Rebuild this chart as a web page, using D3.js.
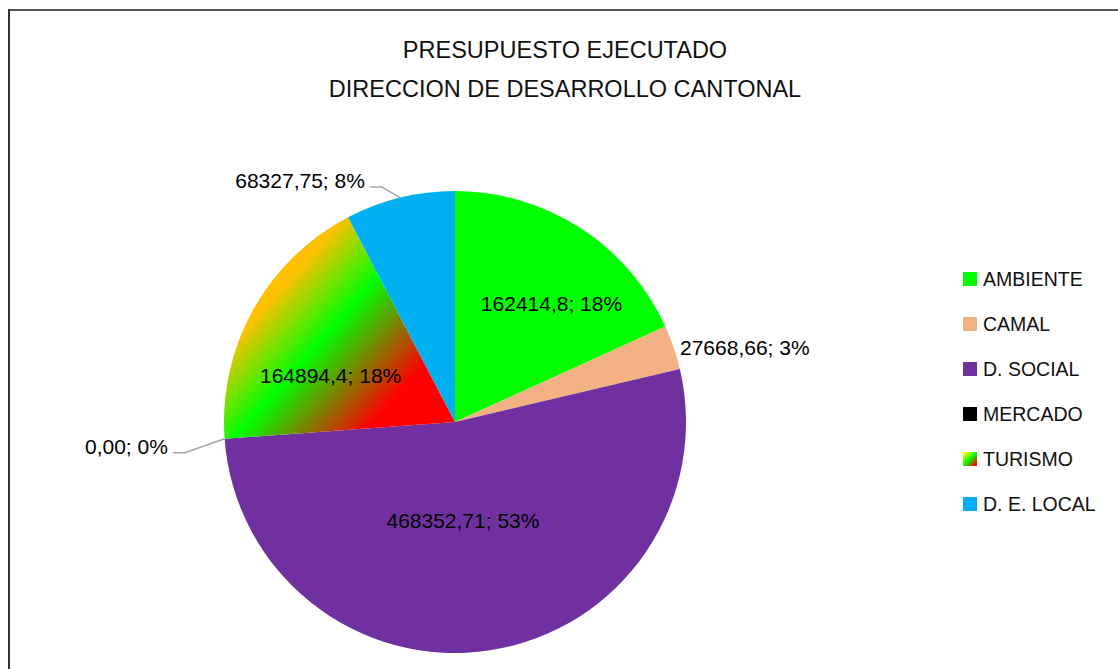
<!DOCTYPE html>
<html>
<head>
<meta charset="utf-8">
<script src="https://cdn.jsdelivr.net/npm/d3@7"></script>
<style>
  html, body { margin: 0; padding: 0; background: #fff; }
  svg { display: block; font-family: "Liberation Sans", Arial, sans-serif; }
</style>
</head>
<body>
<svg id="pie"></svg>
<script>
// chart data
const titleLines = ["PRESUPUESTO EJECUTADO", "DIRECCION DE DESARROLLO CANTONAL"];
const categories = ["AMBIENTE", "CAMAL", "D. SOCIAL", "MERCADO", "TURISMO", "D. E. LOCAL"];
const values = [162414.8, 27668.66, 468352.71, 0, 164894.4, 68327.75];
const valueLabels = ["162414,8", "27668,66", "468352,71", "0,00", "164894,4", "68327,75"];
const colors = ["#00ff00", "#f4b183", "#7030a0", "#000000", "url(#turismoFill)", "#00b0f0"];

// where each data label sits: polar position (fraction of radius, degrees clockwise from top)
const labelSpots = {
  "AMBIENTE":    { r: 0.661, a: 39.2, anchor: "middle" },
  "CAMAL":       { r: 1.026, a: 71.7, anchor: "start" },
  "D. SOCIAL":   { r: 0.428, a: 175.4, anchor: "middle" },
  "MERCADO":     { r: 1.177, a: 263.5, leader: true },
  "TURISMO":     { r: 0.575, a: 290.5, anchor: "middle" },
  "D. E. LOCAL": { r: 1.065, a: 342.7, leader: true }
};

function drawPie(width, height) {
  const svg = d3.select('#pie')
    .attr('width', width)
    .attr('height', height)
    .attr('viewBox', `0 0 ${width} ${height}`);

  const defs = svg.append('defs');

  const cx = 455, cy = 422, radius = 231;

  // frame of the chart area (only top and left edges are visible)
  svg.append('line')
    .attr('x1', 8).attr('y1', 10).attr('x2', width).attr('y2', 10)
    .attr('stroke', '#555').attr('stroke-width', 2);
  svg.append('line')
    .attr('x1', 9).attr('y1', 9).attr('x2', 9).attr('y2', height)
    .attr('stroke', '#333').attr('stroke-width', 2);

  // title
  svg.append('text')
    .attr('x', 565)
    .attr('text-anchor', 'middle')
    .attr('font-size', '23.5px')
    .attr('fill', '#111')
    .selectAll('tspan')
    .data(titleLines)
    .enter()
    .append('tspan')
    .attr('x', 565)
    .attr('y', (d, i) => 58 + i * 38.5)
    .text(d => d);

  // gradient for TURISMO slice (orange -> green -> red, top-left to bottom-right)
  // coordinates are relative to the pie centre, since the slice lives in the translated group
  const grad = defs.append('linearGradient')
    .attr('id', 'turismoFill')
    .attr('gradientUnits', 'userSpaceOnUse')
    .attr('x1', -175).attr('y1', -176)
    .attr('x2', -35).attr('y2', -52);
  grad.append('stop').attr('offset', 0).attr('stop-color', '#ffc000');
  grad.append('stop').attr('offset', 0.15).attr('stop-color', '#ffc000');
  grad.append('stop').attr('offset', 0.5).attr('stop-color', '#00ff00');
  grad.append('stop').attr('offset', 1).attr('stop-color', '#ff0000');

  const swatchGrad = defs.append('linearGradient')
    .attr('id', 'turismoSwatch')
    .attr('x1', 0).attr('y1', 0).attr('x2', 1).attr('y2', 1);
  swatchGrad.append('stop').attr('offset', 0.1).attr('stop-color', '#ffff00');
  swatchGrad.append('stop').attr('offset', 0.5).attr('stop-color', '#00ff00');
  swatchGrad.append('stop').attr('offset', 0.9).attr('stop-color', '#ff0000');

  const data = categories.map((c, i) => ({ name: c, value: values[i], label: valueLabels[i], color: colors[i] }));
  const total = d3.sum(values);

  const pie = d3.pie()
    .sort(null)
    .value(d => d.value);

  const arc = d3.arc()
    .innerRadius(0)
    .outerRadius(radius);

  const chart = svg.append('g')
    .attr('transform', `translate(${cx}, ${cy})`);

  const slices = pie(data);

  chart.selectAll('path.slice')
    .data(slices)
    .enter()
    .append('path')
    .attr('class', 'slice')
    .attr('d', arc)
    .attr('fill', d => d.data.color);

  const polar = (r, deg) => {
    const rad = deg * Math.PI / 180;
    return [r * Math.sin(rad), -r * Math.cos(rad)];
  };

  const pct = v => `${Math.round(100 * v / total)}%`;

  // data labels
  slices.forEach(s => {
    const spot = labelSpots[s.data.name];
    const text = `${s.data.label}; ${pct(s.data.value)}`;
    const [x, y] = polar(spot.r * radius, spot.a);

    if (spot.leader) {
      const mid = (s.startAngle + s.endAngle) / 2;
      const edge = [radius * Math.sin(mid), -radius * Math.cos(mid)];
      const elbowEnd = x - 12;
      chart.append('polyline')
        .attr('points', `${edge[0]},${edge[1]} ${x},${y} ${elbowEnd},${y}`)
        .attr('fill', 'none')
        .attr('stroke', '#a6a6a6')
        .attr('stroke-width', 1.5);
      chart.append('text')
        .attr('x', elbowEnd - 5)
        .attr('y', y + 1)
        .attr('text-anchor', 'end')
        .attr('font-size', '21px')
        .attr('fill', '#000')
        .text(text);
    } else {
      chart.append('text')
        .attr('x', x)
        .attr('y', y)
        .attr('dy', '0.36em')
        .attr('text-anchor', spot.anchor)
        .attr('font-size', '21px')
        .attr('fill', '#000')
        .text(text);
    }
  });

  // legend
  const legend = svg.append('g')
    .attr('transform', 'translate(963, 279)');

  const rows = legend.selectAll('g')
    .data(data)
    .enter()
    .append('g')
    .attr('transform', (d, i) => `translate(0, ${i * 45})`);

  rows.append('rect')
    .attr('x', 0)
    .attr('y', -7)
    .attr('width', 14)
    .attr('height', 14)
    .attr('fill', d => d.name === 'TURISMO' ? 'url(#turismoSwatch)' : d.color);

  rows.append('text')
    .attr('x', 20)
    .attr('y', 0)
    .attr('dy', '0.36em')
    .attr('font-size', '19.5px')
    .attr('fill', '#111')
    .text(d => d.name);
}

drawPie(1118, 669);
</script>
</body>
</html>
